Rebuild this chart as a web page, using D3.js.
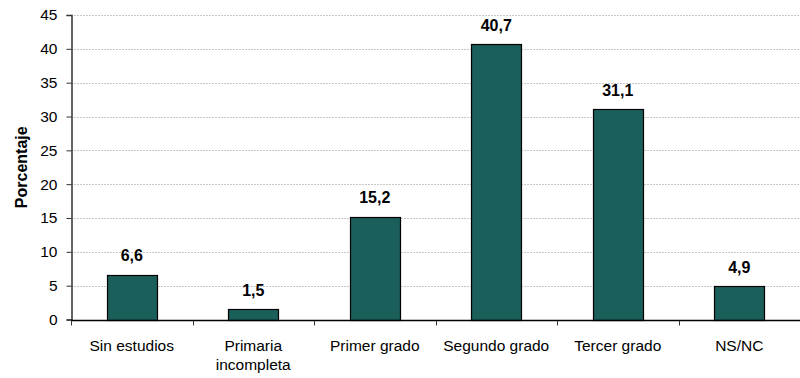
<!DOCTYPE html>
<html><head><meta charset="utf-8">
<script src="https://cdn.jsdelivr.net/npm/d3@7"></script>
<style>body{margin:0;background:#fff}svg{display:block}</style>
</head><body>
<script>
const categories = ["Sin estudios", "Primaria incompleta", "Primer grado", "Segundo grado", "Tercer grado", "NS/NC"];
const categoryLines = [["Sin estudios"], ["Primaria", "incompleta"], ["Primer grado"], ["Segundo grado"], ["Tercer grado"], ["NS/NC"]];
const values = [6.6, 1.5, 15.2, 40.7, 31.1, 4.9];
const yTicks = [0, 5, 10, 15, 20, 25, 30, 35, 40, 45];
const yTitle = "Porcentaje";

const W = 800, H = 378;
const m = {left: 71, right: 0, top: 15, bottom: 58};
const svg = d3.select("body").append("svg").attr("width", W).attr("height", H);
const font = "Arial, 'Liberation Sans', sans-serif";

const x = d3.scaleBand().domain(categories).range([m.left, W - m.right]).paddingInner(0).paddingOuter(0);
const y = d3.scaleLinear().domain([0, 45]).range([H - m.bottom - 0.5, m.top]);

// gridlines
svg.append("g").selectAll("line").data(yTicks.filter(d => d > 0)).join("line")
  .attr("x1", m.left).attr("x2", W).attr("y1", d => Math.round(y(d)) + 0.5).attr("y2", d => Math.round(y(d)) + 0.5)
  .attr("stroke", "#c8c8c8").attr("stroke-width", 1).attr("stroke-dasharray", "2,1");

// bars
const bw = x.bandwidth() * 0.41;
svg.append("g").selectAll("rect").data(values).join("rect")
  .attr("x", (d, i) => Math.round(x(categories[i]) + (x.bandwidth() - bw) / 2) + 0.5)
  .attr("y", d => Math.round(y(d)) + 0.5)
  .attr("width", Math.round(bw))
  .attr("height", d => Math.round(y(0)) - Math.round(y(d)))
  .attr("fill", "#1b5f5b").attr("stroke", "#000").attr("stroke-width", 1.2);

// value labels
svg.append("g").selectAll("text").data(values).join("text")
  .attr("x", (d, i) => x(categories[i]) + x.bandwidth() / 2)
  .attr("y", d => y(d) - 13.5)
  .attr("text-anchor", "middle").attr("font-family", font).attr("font-size", 16).attr("font-weight", "bold")
  .attr("fill", "#000")
  .text(d => d.toFixed(1).replace(".", ","));

// y axis
const yAxis = d3.axisLeft(y).tickValues(yTicks).tickSize(5).tickPadding(9).tickFormat(d => d);
const gy = svg.append("g").attr("transform", `translate(${m.left + 0.5},0)`).call(yAxis);
gy.select(".domain").attr("stroke", "#333").attr("stroke-width", 1.5);
gy.selectAll(".tick line").attr("stroke", "#333");
gy.selectAll(".tick text").attr("font-family", font).attr("font-size", 15.5).attr("fill", "#000");

// x axis
const gx = svg.append("g").attr("transform", `translate(0,${Math.round(y(0)) + 0.5})`);
gx.append("line").attr("x1", m.left).attr("x2", W).attr("stroke", "#000").attr("stroke-width", 1.5);
const bounds = categories.map(c => x(c)).concat([x.range()[1]]);
gx.selectAll("line.tk").data(bounds).join("line").attr("class", "tk")
  .attr("x1", d => Math.round(d) + 0.5).attr("x2", d => Math.round(d) + 0.5).attr("y1", 0).attr("y2", 5)
  .attr("stroke", "#333");
const lab = gx.selectAll("text.cat").data(categoryLines).join("text").attr("class", "cat")
  .attr("text-anchor", "middle").attr("font-family", font).attr("font-size", 15.5).attr("fill", "#000")
  .attr("x", (d, i) => x(categories[i]) + x.bandwidth() / 2).attr("y", 30.5);
lab.selectAll("tspan").data(d => d).join("tspan")
  .attr("x", function() { return this.parentNode.getAttribute("x"); })
  .attr("dy", (d, i) => i === 0 ? 0 : 19).text(d => d);

// y title
svg.append("text").attr("transform", `translate(27,${(y(0) + y(45)) / 2}) rotate(-90)`)
  .attr("text-anchor", "middle").attr("font-family", font).attr("font-size", 16).attr("font-weight", "bold")
  .text(yTitle);
</script>
</body></html>
